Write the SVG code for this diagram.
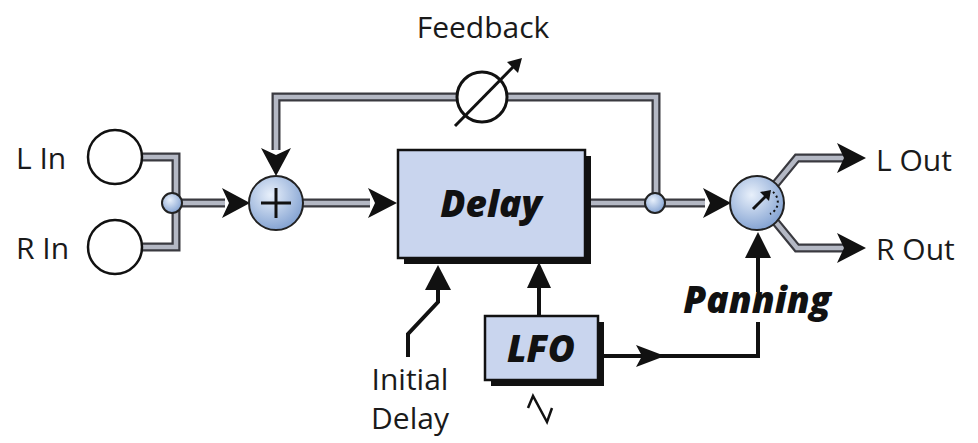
<svg xmlns="http://www.w3.org/2000/svg" width="978" height="443" viewBox="0 0 978 443">
<style>
.t{font-family:"Open Sans","Liberation Sans",sans-serif;font-size:30px;fill:#1a1a1a}
.b{font-family:"Open Sans","Liberation Sans",sans-serif;font-size:37px;font-weight:800;font-style:italic;fill:#111}
.po{fill:none;stroke:#3a3a40;stroke-width:9;stroke-linejoin:miter}
.pi{fill:none;stroke:#b4b8c4;stroke-width:4.5;stroke-linejoin:miter}
.ln{fill:none;stroke:#111;stroke-width:4}
.box{fill:#c9d5ee;stroke:#111;stroke-width:2.5}
.sh{fill:#111}
.ball{fill:url(#g);stroke:#222;stroke-width:2}
</style>
<defs>
<radialGradient id="g" cx="0.4" cy="0.35" r="0.7"><stop offset="0" stop-color="#e8f0fb"/><stop offset="1" stop-color="#7f9fd0"/></radialGradient>
</defs>
<g id="connectors">
<path class="po" d="M142,157H176V247H142"/><path class="pi" d="M142,157H176V247H142"/>
<path class="po" d="M182,203H225"/><path class="pi" d="M182,203H225"/>
<path d="M222,188L250,203L222,218L229,203z" fill="#111"/>
<path class="po" d="M303,203H370"/><path class="pi" d="M303,203H370"/>
<path d="M368,188L397,203L368,218L375,203z" fill="#111"/>
<path class="po" d="M276,150V97H656V195"/><path class="pi" d="M276,150V97H656V195"/>
<path d="M261,148L276,176L291,148L276,155z" fill="#111"/>
<path class="po" d="M590,203H705"/><path class="pi" d="M590,203H705"/>
<path d="M703,188L731,203L703,218L710,203z" fill="#111"/>
<path class="po" d="M774,186L797,158H845"/><path class="pi" d="M774,186L797,158H845"/>
<path d="M837,143L866,158L837,173L844,158z" fill="#111"/>
<path class="po" d="M774,220L797,248H845"/><path class="pi" d="M774,220L797,248H845"/>
<path d="M837,233L866,248L837,263L844,248z" fill="#111"/>
<path class="ln" d="M758,292V255"/><path d="M745,258L758,232L771,258z" fill="#111"/>
<path class="ln" d="M599,356H758V322"/><path d="M636,345L665,356L636,367L642,356z" fill="#111"/>
<path class="ln" d="M539,316V285"/><path d="M527,288L539,262L551,288z" fill="#111"/>
<path class="ln" d="M408,357V334L438,302V285"/><path d="M425,290L438,265L451,290z" fill="#111"/>
<path d="M528,408L533,396L547,422L552,408" fill="none" stroke="#111" stroke-width="2.5"/>
</g>
<g id="feedback">
<text class="t" x="483" y="38" text-anchor="middle">Feedback</text>
<circle cx="482" cy="97" r="25" fill="#fff" stroke="#111" stroke-width="3"/>
<path d="M455,126L516,64" stroke="#111" stroke-width="3"/>
<path d="M507,62L522,58L518,73z" fill="#111"/>
</g>
<g id="lin"><circle cx="115" cy="157" r="27" fill="#fff" stroke="#111" stroke-width="2.5"/><text class="t" x="16" y="169">L In</text></g>
<g id="rin"><circle cx="115" cy="247" r="27" fill="#fff" stroke="#111" stroke-width="2.5"/><text class="t" x="16" y="259">R In</text></g>
<g id="junction1"><circle class="ball" cx="172" cy="203" r="10"/></g>
<g id="sum"><circle class="ball" cx="276" cy="203" r="27"/><path d="M276,188V218M261,203H291" stroke="#111" stroke-width="3"/></g>
<g id="delay"><rect class="sh" x="404" y="156" width="187" height="108"/><rect class="box" x="398" y="150" width="187" height="108"/><text class="b" x="491" y="217" text-anchor="middle">Delay</text></g>
<g id="junction2"><circle class="ball" cx="655" cy="203" r="10"/></g>
<g id="pan"><circle class="ball" cx="757" cy="203" r="27"/><path d="M753,209L767,195" stroke="#111" stroke-width="3"/><path d="M760,192L771,190L769,201z" fill="#111"/><path d="M773,192A13,13 0 0 1 770,214" fill="none" stroke="#111" stroke-width="2" stroke-dasharray="2,3"/></g>
<g id="outs"><text class="t" x="876" y="171">L Out</text><text class="t" x="876" y="260">R Out</text></g>
<g id="panning"><text class="b" x="757" y="313" text-anchor="middle">Panning</text></g>
<g id="lfo"><rect class="sh" x="491" y="322" width="113" height="64"/><rect class="box" x="485" y="316" width="113" height="64"/><text class="b" x="541" y="362" text-anchor="middle">LFO</text></g>
<g id="initial"><text class="t" x="410" y="390" text-anchor="middle">Initial</text><text class="t" x="410" y="429" text-anchor="middle">Delay</text></g>
</svg>
